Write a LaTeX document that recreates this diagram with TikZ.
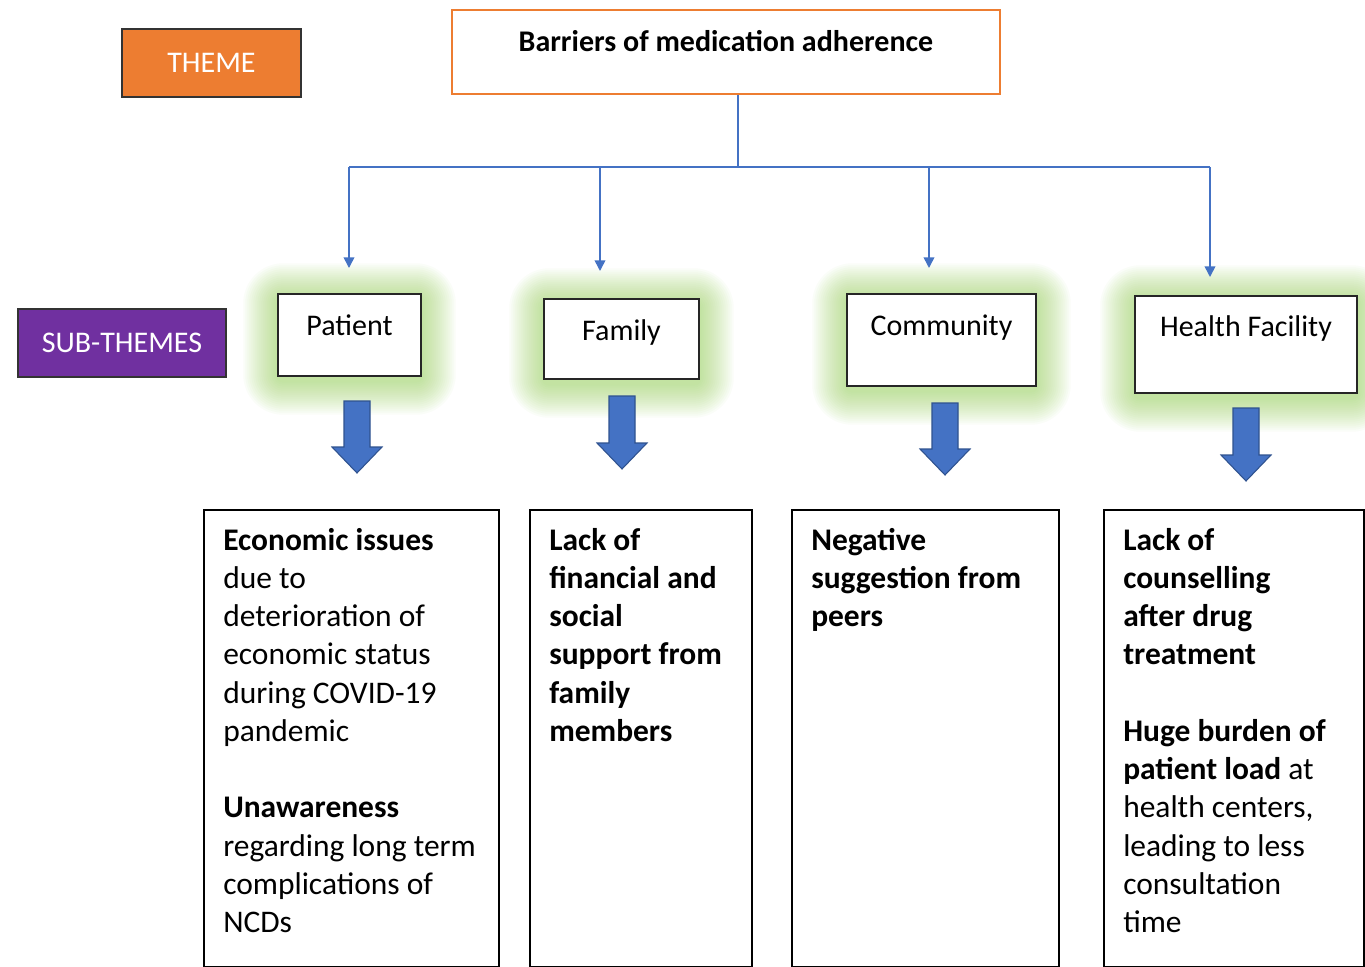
\documentclass[tikz,border=0pt]{standalone}
\usepackage{fontspec}
\setmainfont{Carlito}
\usetikzlibrary{arrows.meta,backgrounds}
\definecolor{themeor}{RGB}{237,125,49}
\definecolor{subpur}{RGB}{112,48,160}
\definecolor{linkblue}{RGB}{68,114,196}
\definecolor{arrowedge}{RGB}{47,82,143}
\definecolor{glowgreen}{RGB}{146,208,80}
\newcommand\blockarrow[3]{%
  \filldraw[fill=linkblue, draw=arrowedge, line width=0.8pt, line join=miter]
    ({#1-13},#2) -- ({#1-13},{#3-26}) -- ({#1-25},{#3-26}) -- (#1,#3)
    -- ({#1+25},{#3-26}) -- ({#1+13},{#3-26}) -- ({#1+13},#2) -- cycle;}
\begin{document}
\begin{tikzpicture}[x=0.75pt,y=-0.75pt,
  labelbox/.style={draw=black!80, line width=1.1pt, text=white, inner sep=0,
    font=\fontsize{22.5pt}{27pt}\selectfont, minimum height=51pt},
  topbox/.style={draw=themeor, line width=1.9pt, fill=white, inner sep=0, anchor=base,
    font=\bfseries\fontsize{22.5pt}{27pt}\selectfont},
  subbox/.style={draw=black!85, line width=1.1pt, fill=white, inner sep=0, anchor=base,
    font=\fontsize{22.5pt}{27pt}\selectfont},
  bbox/.style={draw=black, line width=1.5pt, fill=white, anchor=north west, inner sep=0,
    minimum height=342.75pt},
  btext/.style={anchor=base west, inner sep=0, font=\fontsize{23.6pt}{28.7pt}\selectfont},
  conn/.style={draw=linkblue, line width=1.2pt},
  arr/.style={conn, -{Triangle[width=8pt,length=8pt]}}]
\useasboundingbox (0,0) rectangle (1365,967);

% theme and sub-theme labels
\node[labelbox, fill=themeor, minimum width=134.25pt] (theme) at (211.5,63) {THEME};
\node[labelbox, fill=subpur, minimum width=156pt] (subthemes) at (122,343) {SUB-THEMES};

% theme box
\node[topbox, minimum width=411pt, text height=30.75pt, text depth=32.25pt] (tb) at (726,51)
  {Barriers of medication adherence};

% sub-theme boxes
\node[subbox, minimum width=107.25pt, text height=30.75pt, text depth=30.75pt] (sp) at (349.5,335) {Patient};
\node[subbox, minimum width=116.25pt, text height=30.75pt, text depth=29.25pt] (sf) at (621.5,340) {Family};
\node[subbox, minimum width=141.75pt, text height=30.75pt, text depth=38.25pt] (sc) at (941.5,335) {Community};
\node[subbox, minimum width=166.5pt, text height=30pt, text depth=42.75pt] (sh) at (1246,336) {Health Facility};

% glow and background
\begin{scope}[on background layer]
  \fill[white] (0,0) rectangle (1365,967);
  \foreach \n in {sp,sf,sc,sh}{
    \foreach \d in {2,4,...,34}{
      \fill[glowgreen, opacity=0.04, rounded corners={(\d+6)*0.75pt}]
        ([shift={(-\d,{-\d+4})}]\n.north west) rectangle ([shift={(\d,{\d+4})}]\n.south east);
    }
  }
\end{scope}

% connectors
\coordinate (bj) at (738,167);
\coordinate (jp) at (349,167);
\coordinate (jf) at (600,167);
\coordinate (jc) at (929,167);
\coordinate (jh) at (1210,167);
\coordinate (tp) at (349,268);
\coordinate (tf) at (600,271);
\coordinate (tc) at (929,268);
\coordinate (th) at (1210,277);
\draw[conn] (bj |- tb.south) -- (bj);
\draw[conn] (jp) -- (jh);
\draw[arr] (jp) -- (tp);
\draw[arr] (jf) -- (tf);
\draw[arr] (jc) -- (tc);
\draw[arr] (jh) -- (th);

% block arrows
\blockarrow{357}{401}{473}
\blockarrow{622}{396}{469}
\blockarrow{945}{403}{475}
\blockarrow{1246}{408}{481}

% bottom boxes
\node[bbox, minimum width=221.25pt] (b1) at (203,509) {};
\node[bbox, minimum width=166.5pt] (b2) at (529,509) {};
\node[bbox, minimum width=200.25pt] (b3) at (791,509) {};
\node[bbox, minimum width=195pt] (b4) at (1103,509) {};

\node[btext] (t1) at (223,550) {\begin{tabular}[t]{@{}l@{}}
\textbf{Economic issues}\\ due to\\ deterioration of\\ economic status\\ during COVID-19\\ pandemic\\ \\
\textbf{Unawareness}\\ regarding long term\\ complications of\\ NCDs\end{tabular}};
\node[btext] (t2) at (549,550) {\begin{tabular}[t]{@{}l@{}}
\textbf{Lack of}\\ \textbf{financial and}\\ \textbf{social}\\ \textbf{support from}\\ \textbf{family}\\ \textbf{members}\end{tabular}};
\node[btext] (t3) at (811,550) {\begin{tabular}[t]{@{}l@{}}
\textbf{Negative}\\ \textbf{suggestion from}\\ \textbf{peers}\end{tabular}};
\node[btext] (t4) at (1123,550) {\begin{tabular}[t]{@{}l@{}}
\textbf{Lack of}\\ \textbf{counselling}\\ \textbf{after drug}\\ \textbf{treatment}\\ \\
\textbf{Huge burden of}\\ \textbf{patient load} at\\ health centers,\\ leading to less\\ consultation\\ time\end{tabular}};
\end{tikzpicture}
\end{document}
